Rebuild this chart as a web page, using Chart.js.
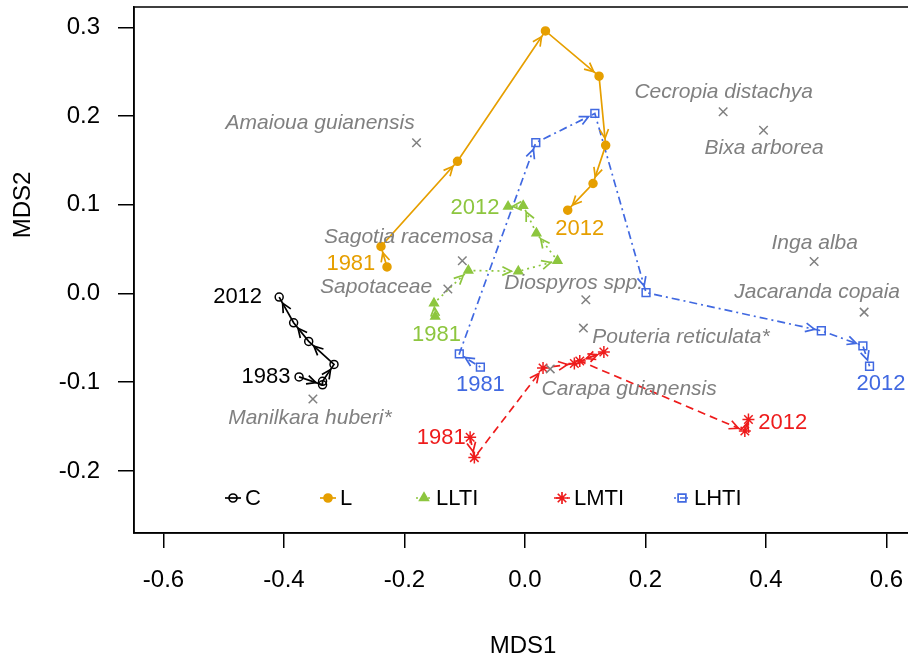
<!DOCTYPE html>
<html>
<head>
<meta charset="utf-8">
<script src="https://cdn.jsdelivr.net/npm/chart.js@4.4.0/dist/chart.umd.min.js"></script>
<style>
  body { margin: 0; background: #fff; overflow: hidden; }
</style>
</head>
<body>
<!-- a little wider than the window: the plot box runs past the right edge of the picture -->
<canvas id="mds" width="916" height="659"></canvas>
<script>
// trajectories, first point = start year, last point = 2012
const seriesNames = ["C", "L", "LLTI", "LMTI", "LHTI"];
const startYears = ["1983", "1981", "1981", "1981", "1981"];
const endYear = "2012";

const cX = [-0.375, -0.336, -0.336, -0.317, -0.359, -0.384, -0.408];
const cY = [-0.094, -0.103, -0.099, -0.080, -0.054, -0.033, -0.004];

const lX = [-0.229, -0.239, -0.112, 0.034, 0.123, 0.134, 0.113, 0.071];
const lY = [0.030, 0.053, 0.149, 0.296, 0.245, 0.167, 0.124, 0.094];

const lltiX = [-0.149, -0.151, -0.094, -0.011, 0.054, 0.019, -0.003, -0.028];
const lltiY = [-0.026, -0.011, 0.026, 0.025, 0.037, 0.068, 0.099, 0.098];

const lmtiX = [-0.091, -0.084, 0.030, 0.082, 0.131, 0.091, 0.365, 0.371];
const lmtiY = [-0.162, -0.185, -0.084, -0.079, -0.066, -0.076, -0.155, -0.142];

const lhtiX = [-0.074, -0.109, 0.018, 0.116, 0.201, 0.492, 0.561, 0.572];
const lhtiY = [-0.083, -0.068, 0.170, 0.203, 0.001, -0.042, -0.059, -0.082];

// where the year labels sit (data units)
const startLabelX = [-0.430, -0.289, -0.147, -0.139, -0.074];
const startLabelY = [-0.094, 0.033, -0.047, -0.163, -0.103];
const endLabelX = [-0.477, 0.091, -0.083, 0.428, 0.591];
const endLabelY = [-0.004, 0.073, 0.096, -0.146, -0.102];

// species scores
const speciesNames = ["Amaioua guianensis", "Cecropia distachya", "Bixa arborea", "Inga alba",
  "Jacaranda copaia", "Diospyros spp.", "Pouteria reticulata*", "Carapa guianensis",
  "Sagotia racemosa", "Sapotaceae", "Manilkara huberi*"];
const speciesX = [-0.180, 0.329, 0.396, 0.480, 0.563, 0.101, 0.097, 0.042, -0.104, -0.128, -0.352];
const speciesY = [0.170, 0.205, 0.184, 0.036, -0.021, -0.007, -0.039, -0.085, 0.037, 0.005, -0.119];
const speciesLabelX = [-0.340, 0.330, 0.397, 0.481, 0.485, 0.081, 0.259, 0.173, -0.193, -0.247, -0.357];
const speciesLabelY = [0.192, 0.227, 0.164, 0.057, 0.001, 0.012, -0.049, -0.108, 0.064, 0.007, -0.141];

const xTicks = [-0.6, -0.4, -0.2, 0.0, 0.2, 0.4, 0.6];
const yTicks = [-0.2, -0.1, 0.0, 0.1, 0.2, 0.3];

const FONT = "'Liberation Sans', Arial, sans-serif";
const colors = ["#000000", "#E69F00", "#8DC63F", "#EE1C1C", "#4169E1"];
const dashes = [[], [], [2, 4], [8, 5], [2, 4, 8, 4]];
const styles = ["circle", "circle", "triangle", "star", "rect"];
const radii = [4, 4, 5, 6, 5.5];
const fills = ["rgba(0,0,0,0)", "#E69F00", "#8DC63F", "#EE1C1C", "rgba(0,0,0,0)"];
const LW = 1.7;

const xs = [cX, lX, lltiX, lmtiX, lhtiX];
const ys = [cY, lY, lltiY, lmtiY, lhtiY];

function pts(a, b) {
  return a.map((v, i) => ({ x: v, y: b[i] }));
}

const datasets = [{
  label: "species",
  data: pts(speciesX, speciesY),
  showLine: false,
  pointStyle: "crossRot",
  pointRadius: 6,
  borderColor: "#808080",
  pointBorderWidth: 1.5
}];
seriesNames.forEach((name, i) => {
  datasets.push({
    label: name,
    data: pts(xs[i], ys[i]),
    showLine: true,
    fill: false,
    borderColor: colors[i],
    borderWidth: LW,
    borderDash: dashes[i],
    pointStyle: styles[i],
    pointRadius: radii[i],
    pointBorderColor: colors[i],
    pointBackgroundColor: fills[i],
    pointBorderWidth: 1.5
  });
});

// arrow heads at the end of every step
const arrowPlugin = {
  id: "arrows",
  afterDatasetsDraw(chart) {
    const ctx = chart.ctx;
    chart.data.datasets.forEach((ds, i) => {
      if (!ds.showLine) return;
      const p = chart.getDatasetMeta(i).data;
      ctx.save();
      ctx.strokeStyle = ds.borderColor;
      ctx.lineWidth = LW;
      ctx.setLineDash([]);
      for (let k = 1; k < p.length; k++) {
        const dx = p[k].x - p[k - 1].x, dy = p[k].y - p[k - 1].y;
        const len = Math.hypot(dx, dy);
        if (len < 4) continue;
        const back = Math.min(7, len * 0.3);
        const tx = p[k].x - dx / len * back, ty = p[k].y - dy / len * back;
        const ang = Math.atan2(dy, dx), h = 10;
        ctx.beginPath();
        ctx.moveTo(tx - h * Math.cos(ang - 0.45), ty - h * Math.sin(ang - 0.45));
        ctx.lineTo(tx, ty);
        ctx.lineTo(tx - h * Math.cos(ang + 0.45), ty - h * Math.sin(ang + 0.45));
        ctx.stroke();
      }
      ctx.restore();
    });
  }
};

// labels, legend, titles and the box
const textPlugin = {
  id: "texts",
  afterDraw(chart) {
    const ctx = chart.ctx, sx = chart.scales.x, sy = chart.scales.y, area = chart.chartArea;
    ctx.save();
    ctx.strokeStyle = "#000";
    ctx.lineWidth = 1.5;
    ctx.setLineDash([]);
    ctx.strokeRect(area.left, area.top, area.right - area.left, area.bottom - area.top);

    ctx.textAlign = "center";
    ctx.textBaseline = "middle";
    ctx.font = "italic 21px " + FONT;
    ctx.fillStyle = "#808080";
    speciesNames.forEach((s, i) => {
      ctx.fillText(s, sx.getPixelForValue(speciesLabelX[i]), sy.getPixelForValue(speciesLabelY[i]));
    });

    ctx.font = "22px " + FONT;
    seriesNames.forEach((s, i) => {
      ctx.fillStyle = colors[i];
      ctx.fillText(startYears[i], sx.getPixelForValue(startLabelX[i]), sy.getPixelForValue(startLabelY[i]));
      ctx.fillText(endYear, sx.getPixelForValue(endLabelX[i]), sy.getPixelForValue(endLabelY[i]));
    });

    // legend
    const legendX = [233, 328, 424, 562, 682];
    const ly = 498;
    ctx.textAlign = "left";
    seriesNames.forEach((s, i) => {
      const mx = legendX[i];
      ctx.strokeStyle = colors[i];
      ctx.lineWidth = LW;
      ctx.setLineDash(dashes[i]);
      ctx.beginPath();
      ctx.moveTo(mx - 8, ly);
      ctx.lineTo(mx + 8, ly);
      ctx.stroke();
      ctx.setLineDash([]);
      ctx.fillStyle = fills[i];
      Chart.helpers.drawPoint(ctx, { pointStyle: styles[i], radius: radii[i], borderWidth: 1.5 }, mx, ly);
      ctx.fillStyle = "#000";
      ctx.fillText(s, mx + 12, ly + 1);
    });

    // axis titles
    ctx.fillStyle = "#000";
    ctx.font = "24px " + FONT;
    ctx.textAlign = "center";
    ctx.fillText("MDS1", 523, 646);
    ctx.translate(23, 205);
    ctx.rotate(-Math.PI / 2);
    ctx.fillText("MDS2", 0, 0);
    ctx.restore();
  }
};

new Chart("mds", {
  type: "scatter",
  data: { datasets: datasets },
  plugins: [arrowPlugin, textPlugin],
  options: {
    responsive: false,
    animation: false,
    devicePixelRatio: 1,
    layout: { autoPadding: false, padding: { top: 7, right: 4, left: 0, bottom: 0 } },
    plugins: { legend: { display: false }, tooltip: { enabled: false } },
    scales: {
      x: {
        min: -0.649, max: 0.6425,
        afterBuildTicks: s => { s.ticks = xTicks.map(v => ({ value: v })); },
        afterFit: s => { s.height = 126; s.paddingLeft = 0; s.paddingRight = 0; },
        grid: { drawOnChartArea: false, drawTicks: true, tickLength: 15, color: "#000", lineWidth: 1.5 },
        border: { display: true, color: "#000", width: 1.5 },
        ticks: { color: "#000", padding: 18, font: { size: 24, family: FONT }, callback: v => v.toFixed(1), maxRotation: 0 }
      },
      y: {
        min: -0.270, max: 0.323,
        afterBuildTicks: s => { s.ticks = yTicks.map(v => ({ value: v })); },
        afterFit: s => { s.width = 134; s.paddingTop = 0; s.paddingBottom = 0; },
        grid: { drawOnChartArea: false, drawTicks: true, tickLength: 16, color: "#000", lineWidth: 1.5 },
        border: { display: true, color: "#000", width: 1.5 },
        ticks: { color: "#000", padding: 18, font: { size: 24, family: FONT }, callback: v => v.toFixed(1) }
      }
    }
  }
});
</script>
</body>
</html>
